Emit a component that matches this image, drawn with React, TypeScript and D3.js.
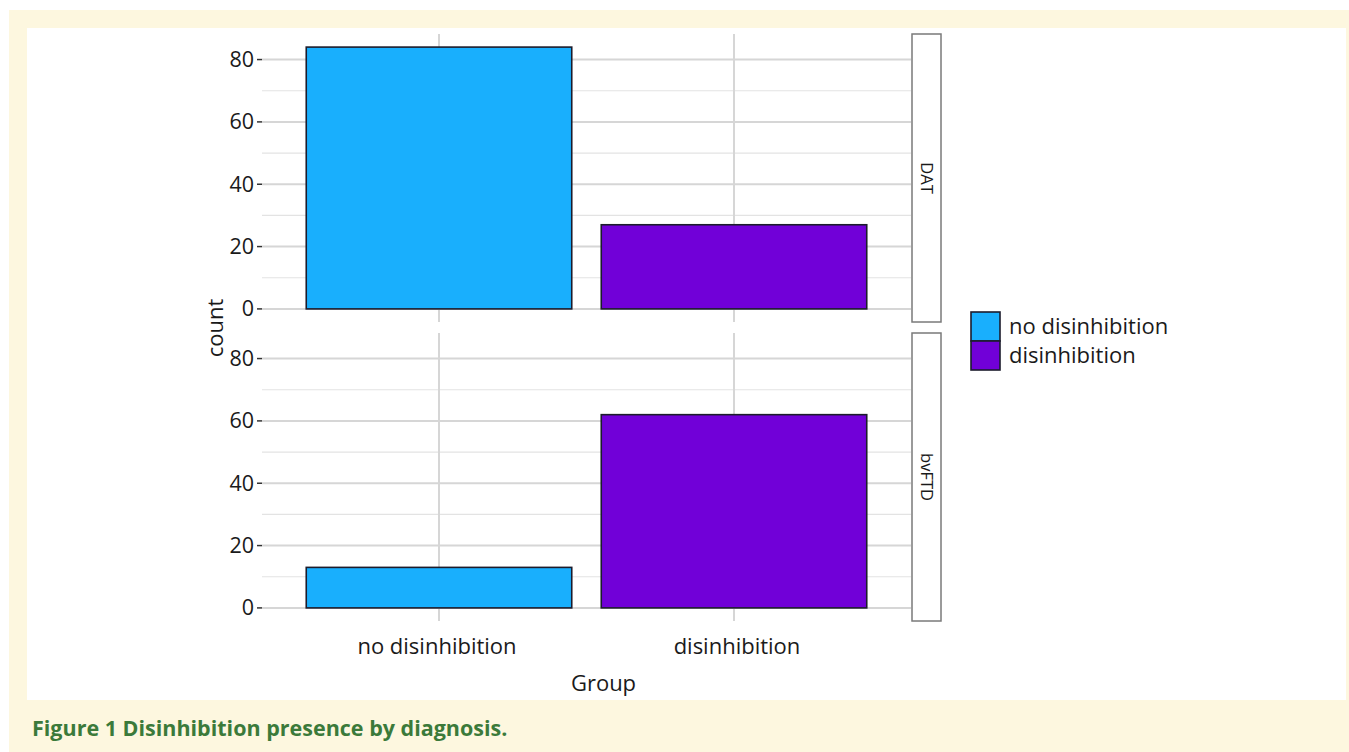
import * as d3 from 'd3';

const groups = ['no disinhibition', 'disinhibition'];
const facets = ['DAT', 'bvFTD'];
const datCounts = [84, 27];
const bvftdCounts = [13, 62];
const yTicks = [0, 20, 40, 60, 80];
const yMinor = [10, 30, 50, 70];
const colors = ['#19affd', '#7100d8'];

const W = 1349;
const H = 752;
const font = '"Open Sans", "Noto Sans", sans-serif';

const App = () => {
  const plotLeft = 262;
  const plotRight = 911;
  const stripRight = 941;
  const panels = [
    { name: facets[0], top: 34, bottom: 322, values: datCounts },
    { name: facets[1], top: 333, bottom: 621, values: bvftdCounts },
  ];

  // ggplot-like discrete scale: 0.6 expansion on each side
  const xCont = d3.scaleLinear().domain([0.4, 2.6]).range([plotLeft, plotRight]);
  const unit = xCont(2) - xCont(1);
  const barW = unit * 0.9;

  const maxVal = d3.max([...datCounts, ...bvftdCounts]) as number;
  const pad = maxVal * 0.05;

  return (
    <svg
      width={W}
      height={H}
      style={{ position: 'absolute', left: 0, top: 0 }}
      fontFamily={font}
    >
      <rect x={0} y={0} width={W} height={H} fill="#ffffff" />
      <rect x={9} y={10} width={W - 9} height={H - 10} fill="#fdf7df" />
      <rect x={27} y={28} width={1319} height={672} fill="#ffffff" />

      {panels.map((p) => {
        const y = d3.scaleLinear().domain([-pad, maxVal + pad]).range([p.bottom, p.top]);
        return (
          <g key={p.name}>
            {yMinor.map((t) => (
              <line key={'m' + t} x1={plotLeft} x2={plotRight} y1={y(t)} y2={y(t)}
                stroke="#e3e3e3" strokeWidth={1.2} />
            ))}
            {yTicks.map((t) => (
              <line key={'M' + t} x1={plotLeft} x2={plotRight} y1={y(t)} y2={y(t)}
                stroke="#d6d6d6" strokeWidth={2} />
            ))}
            {groups.map((g, i) => (
              <line key={'v' + g} x1={xCont(i + 1)} x2={xCont(i + 1)} y1={p.top} y2={p.bottom}
                stroke="#d6d6d6" strokeWidth={2} />
            ))}
            {p.values.map((v, i) => (
              <rect key={'b' + i}
                x={xCont(i + 1) - barW / 2}
                y={y(v)}
                width={barW}
                height={y(0) - y(v)}
                fill={colors[i]}
                stroke="#1c1c2c"
                strokeWidth={1.6} />
            ))}
            {yTicks.map((t) => (
              <g key={'t' + t}>
                <line x1={plotLeft - 5} x2={plotLeft} y1={y(t)} y2={y(t)} stroke="#333" strokeWidth={1.5} />
                <text x={plotLeft - 8} y={y(t)} dy="0.35em" textAnchor="end"
                  fontSize={21.5} fill="#1a1a1a">{t}</text>
              </g>
            ))}
            <rect x={plotRight + 1} y={p.top} width={stripRight - plotRight - 1} height={p.bottom - p.top}
              fill="#ffffff" stroke="#7a7a7a" strokeWidth={1.5} />
            <text transform={`translate(${926.5},${(p.top + p.bottom) / 2}) rotate(90)`}
              textAnchor="middle" dy="0.35em" fontSize={16.5} fill="#1a1a1a">{p.name}</text>
          </g>
        );
      })}

      {groups.map((g, i) => (
        <text key={'xl' + g} x={xCont(i + 1) + (i === 1 ? 3 : -2)} y={646} dy="0.35em" textAnchor="middle"
          fontSize={22} fill="#1a1a1a">{g}</text>
      ))}
      <text x={(plotLeft + stripRight) / 2 + 2} y={683} dy="0.35em" textAnchor="middle"
        fontSize={22} fill="#1a1a1a">Group</text>
      <text transform={`translate(${215},${328}) rotate(-90)`} textAnchor="middle" dy="0.35em"
        fontSize={22} fill="#1a1a1a">count</text>

      {groups.map((g, i) => (
        <g key={'lg' + g}>
          <rect x={971} y={312 + i * 29} width={29} height={29} fill={colors[i]}
            stroke="#1c1c2c" strokeWidth={1.6} />
          <text x={1009} y={326.5 + i * 29} dy="0.35em" fontSize={22} fill="#1a1a1a">{g}</text>
        </g>
      ))}

      <text x={32} y={728} dy="0.35em" fontSize={21.5} fontWeight="bold" fill="#3b7a3a">
        Figure 1 Disinhibition presence by diagnosis.
      </text>
    </svg>
  );
};

export default App;
